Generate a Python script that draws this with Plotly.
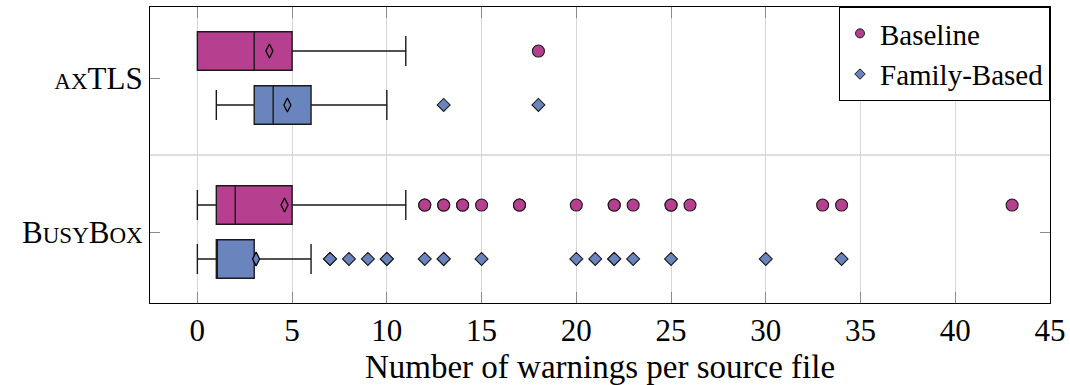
import plotly.graph_objects as go

# ---- data ----
projects = ["axTLS", "BusyBox"]
project_ticktext = ["<span style='font-size:23px'>AX</span>TLS",
                    "B<span style='font-size:23px'>USY</span>B<span style='font-size:23px'>OX</span>"]
project_pos = [2, 1]

series = ["Baseline", "Family-Based"]
series_offset = [0.175, -0.175]
series_color = ["#B6408F", "#6A84BD"]
series_symbol = ["circle", "diamond"]

# per series: [axTLS, BusyBox]
lower_whisker = {"Baseline": [0, 0], "Family-Based": [1, 0]}
q1 = {"Baseline": [0, 1], "Family-Based": [3, 1]}
median = {"Baseline": [3, 2], "Family-Based": [4, 1]}
q3 = {"Baseline": [5, 5], "Family-Based": [6, 3]}
upper_whisker = {"Baseline": [11, 11], "Family-Based": [10, 6]}
mean = {"Baseline": [3.8, 4.6], "Family-Based": [4.75, 3.1]}

outliers = {
    "Baseline": [
        [18],
        [12, 12, 13, 13, 14, 14, 15, 17, 17, 20, 22, 22, 23, 25, 25, 26, 33, 34, 43],
    ],
    "Family-Based": [
        [13, 18],
        [7, 7, 8, 9, 10, 10, 12, 13, 13, 15, 20, 21, 22, 22, 23, 25, 30, 34],
    ],
}

xticks = [0, 5, 10, 15, 20, 25, 30, 35, 40, 45]
x_title = "Number of warnings per source file"

FONT = "Liberation Serif"

fig = go.Figure()

for s, off, col, sym in zip(series, series_offset, series_color, series_symbol):
    ys = [p + off for p in project_pos]
    fig.add_trace(go.Box(
        orientation="h",
        y=ys,
        q1=q1[s], median=median[s], q3=q3[s],
        lowerfence=lower_whisker[s], upperfence=upper_whisker[s],
        width=0.25, whiskerwidth=0.78,
        fillcolor=col, line=dict(color="#1a1a1a", width=1.4),
        boxpoints=False, showlegend=False, hoverinfo="skip",
    ))
    # mean markers
    fig.add_trace(go.Scatter(
        x=mean[s], y=ys, mode="markers",
        marker=dict(symbol="diamond-tall", size=10, color=col,
                    line=dict(color="black", width=1.3)),
        showlegend=False, hoverinfo="skip",
    ))

for s, off, col, sym in zip(series, series_offset, series_color, series_symbol):
    xs, ys = [], []
    for p, vals in zip(project_pos, outliers[s]):
        xs += vals
        ys += [p + off] * len(vals)
    fig.add_trace(go.Scatter(
        x=xs, y=ys, mode="markers", name=s, showlegend=False,
        marker=dict(symbol=sym, size=12 if sym == "circle" else 10, color=col,
                    line=dict(color="#1a1a1a", width=1.1)),
    ))
    # legend entry (smaller marker, like the reference legend)
    fig.add_trace(go.Scatter(
        x=[None], y=[None], mode="markers", name=s,
        marker=dict(symbol=sym, size=9 if sym == "circle" else 8, color=col,
                    line=dict(color="#1a1a1a", width=1)),
    ))

fig.add_shape(type="line", xref="paper", x0=0, x1=1, yref="y", y0=1.5, y1=1.5,
              line=dict(color="#bdbdbd", width=1), layer="below")

fig.update_layout(
    width=1070, height=385,
    margin=dict(l=150, r=20, t=7, b=82, autoexpand=False),
    paper_bgcolor="white", plot_bgcolor="white",
    font=dict(family=FONT, size=31, color="black"),
    boxmode="overlay",
    legend=dict(x=1, y=1, xanchor="right", yanchor="top",
                bgcolor="white", bordercolor="black", borderwidth=1,
                font=dict(size=29), tracegroupgap=0, itemwidth=30),
    xaxis=dict(range=[-2.5, 45], tickvals=xticks, ticktext=[str(v) for v in xticks],
               showgrid=True, gridcolor="#d6d6d6", gridwidth=1, zeroline=False,
               showline=True, linecolor="black", linewidth=1.2, mirror="allticks",
               ticks="inside", ticklen=11, tickcolor="#8a8a8a",
               title=dict(text=x_title, font=dict(size=33), standoff=8)),
    yaxis=dict(range=[0.539, 2.461], tickvals=project_pos, ticktext=project_ticktext,
               showgrid=False, zeroline=False,
               showline=True, linecolor="black", linewidth=1.2, mirror="allticks",
               ticks="inside", ticklen=10, tickcolor="#8a8a8a"),
)

fig.write_html("out.html", config={"displayModeBar": False},
               post_script="document.body.style.margin='0';")
